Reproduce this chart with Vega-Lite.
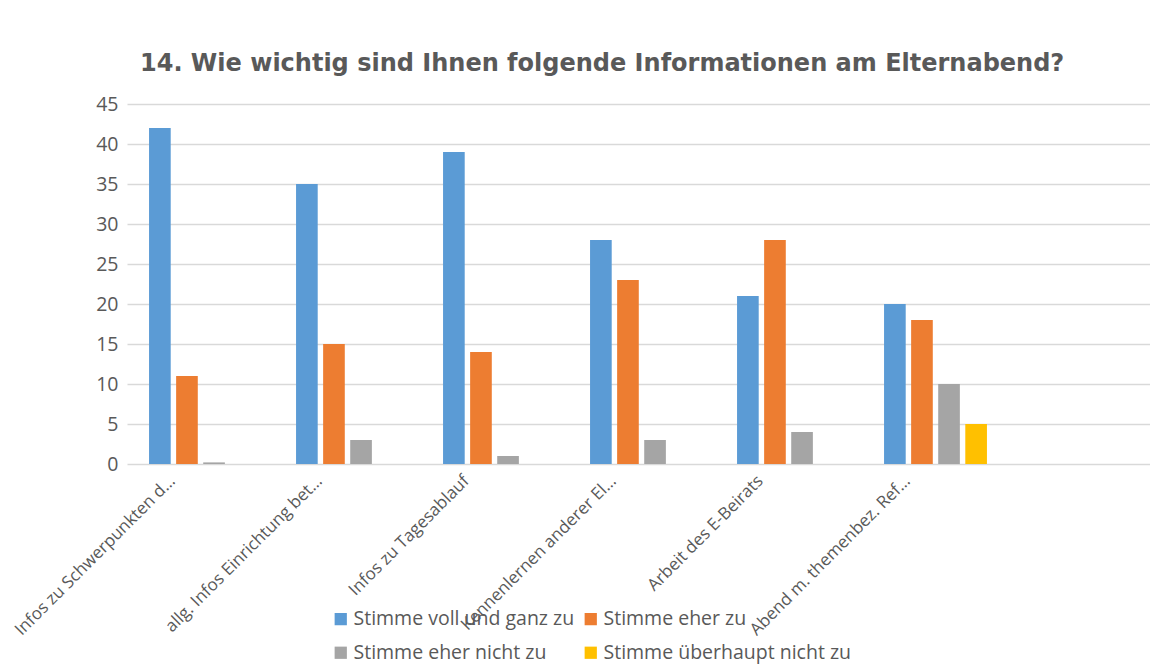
{
  "$schema": "https://vega.github.io/schema/vega-lite/v6.json",
  "autosize": "none",
  "width": 1023,
  "height": 360,
  "padding": {"left": 127, "top": 104, "right": 0, "bottom": 207},
  "background": "white",
  "title": {
    "text": "14. Wie wichtig sind Ihnen folgende Informationen am Elternabend?",
    "anchor": "start",
    "frame": "group",
    "dx": 13,
    "offset": 18,
    "font": "DejaVu Sans",
    "fontSize": 24,
    "fontWeight": "bold",
    "color": "#595959"
  },
  "data": {
    "values": [
      {"kategorie": "Infos zu Schwerpunkten d…", "antwort": "Stimme voll und ganz zu", "anzahl": 42},
      {"kategorie": "Infos zu Schwerpunkten d…", "antwort": "Stimme eher zu", "anzahl": 11},
      {"kategorie": "Infos zu Schwerpunkten d…", "antwort": "Stimme eher nicht zu", "anzahl": 0.2},
      {"kategorie": "allg. Infos Einrichtung bet…", "antwort": "Stimme voll und ganz zu", "anzahl": 35},
      {"kategorie": "allg. Infos Einrichtung bet…", "antwort": "Stimme eher zu", "anzahl": 15},
      {"kategorie": "allg. Infos Einrichtung bet…", "antwort": "Stimme eher nicht zu", "anzahl": 3},
      {"kategorie": "Infos zu Tagesablauf", "antwort": "Stimme voll und ganz zu", "anzahl": 39},
      {"kategorie": "Infos zu Tagesablauf", "antwort": "Stimme eher zu", "anzahl": 14},
      {"kategorie": "Infos zu Tagesablauf", "antwort": "Stimme eher nicht zu", "anzahl": 1},
      {"kategorie": "Kennenlernen anderer El…", "antwort": "Stimme voll und ganz zu", "anzahl": 28},
      {"kategorie": "Kennenlernen anderer El…", "antwort": "Stimme eher zu", "anzahl": 23},
      {"kategorie": "Kennenlernen anderer El…", "antwort": "Stimme eher nicht zu", "anzahl": 3},
      {"kategorie": "Arbeit des E-Beirats", "antwort": "Stimme voll und ganz zu", "anzahl": 21},
      {"kategorie": "Arbeit des E-Beirats", "antwort": "Stimme eher zu", "anzahl": 28},
      {"kategorie": "Arbeit des E-Beirats", "antwort": "Stimme eher nicht zu", "anzahl": 4},
      {"kategorie": "Abend m. themenbez. Ref…", "antwort": "Stimme voll und ganz zu", "anzahl": 20},
      {"kategorie": "Abend m. themenbez. Ref…", "antwort": "Stimme eher zu", "anzahl": 18},
      {"kategorie": "Abend m. themenbez. Ref…", "antwort": "Stimme eher nicht zu", "anzahl": 10},
      {"kategorie": "Abend m. themenbez. Ref…", "antwort": "Stimme überhaupt nicht zu", "anzahl": 5}
    ]
  },
  "mark": {"type": "bar"},
  "encoding": {
    "x": {
      "field": "kategorie",
      "type": "nominal",
      "sort": null,
      "scale": {
        "domain": ["Infos zu Schwerpunkten d…", "allg. Infos Einrichtung bet…", "Infos zu Tagesablauf", "Kennenlernen anderer El…", "Arbeit des E-Beirats", "Abend m. themenbez. Ref…", " "],
        "range": [0, 1029],
        "paddingInner": 0.3,
        "paddingOuter": 0.15
      },
      "axis": {
        "title": null,
        "domain": false,
        "ticks": false,
        "labelAngle": -45,
        "labelAlign": "right",
        "labelBaseline": "middle",
        "labelPadding": 14,
        "labelOffset": -28,
        "labelLimit": 0,
        "labelFont": "Open Sans",
        "labelFontSize": 17,
        "labelColor": "#595959"
      }
    },
    "xOffset": {
      "field": "antwort",
      "type": "nominal",
      "scale": {
        "domain": ["Stimme voll und ganz zu", "Stimme eher zu", "Stimme eher nicht zu", "Stimme überhaupt nicht zu"],
        "paddingInner": 0.2
      }
    },
    "y": {
      "field": "anzahl",
      "type": "quantitative",
      "scale": {"domain": [0, 45], "nice": false},
      "axis": {
        "title": null,
        "values": [0, 5, 10, 15, 20, 25, 30, 35, 40, 45],
        "domain": false,
        "ticks": false,
        "labelPadding": 9,
        "labelFont": "Open Sans",
        "labelFontSize": 19.5,
        "labelColor": "#595959",
        "grid": true,
        "gridColor": "#d9d9d9",
        "gridWidth": 1.5
      }
    },
    "color": {
      "field": "antwort",
      "type": "nominal",
      "scale": {
        "domain": ["Stimme voll und ganz zu", "Stimme eher zu", "Stimme eher nicht zu", "Stimme überhaupt nicht zu"],
        "range": ["#5b9bd5", "#ed7d31", "#a5a5a5", "#ffc000"]
      },
      "legend": {
        "title": null,
        "orient": "none",
        "legendX": 204,
        "legendY": 505,
        "direction": "horizontal",
        "columns": 2,
        "columnPadding": 6,
        "rowPadding": 13,
        "symbolType": "square",
        "symbolSize": 150,
        "symbolStrokeWidth": 0,
        "symbolOffset": 0,
        "labelOffset": 3,
        "labelFont": "Open Sans",
        "labelFontSize": 19.5,
        "labelColor": "#595959",
        "labelLimit": 0
      }
    }
  },
  "config": {
    "view": {"stroke": null}
  }
}
